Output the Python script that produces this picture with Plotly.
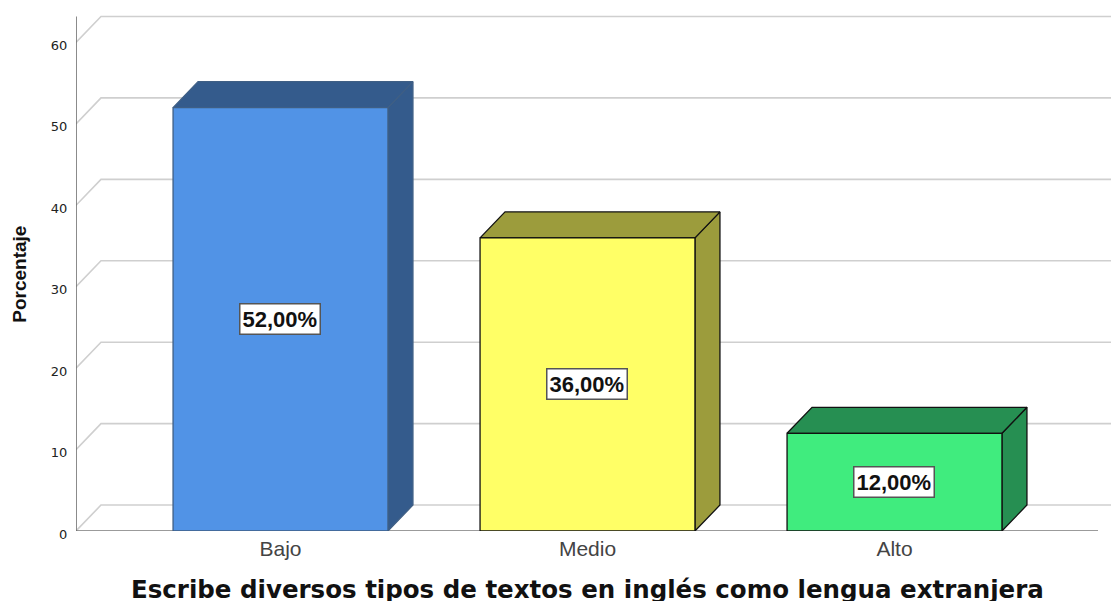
import plotly.graph_objects as go

categories = ["Bajo", "Medio", "Alto"]
values = [52, 36, 12]
labels = ["52,00%", "36,00%", "12,00%"]
y_ticks = [0, 10, 20, 30, 40, 50, 60]
front_colors = ["#5193E6", "#FFFF66", "#40EC7E"]
dark_colors = ["#345B8C", "#9C9C3C", "#268F52"]
edge_colors = ["#3F5F85", "#111111", "#111111"]
x_title = "Escribe diversos tipos de textos en inglés como lengua extranjera"
y_title = "Porcentaje"

W, H = 1111, 601
LEFT, BASE, TOP = 76, 531.5, 6
PX_PER_CAT = 307.0
PX_PER_VAL = 8.15
FIRST_CENTER = 280.5
DX = 25 / PX_PER_CAT
DY = 26 / PX_PER_VAL
BAR_W = 0.70
X0 = (LEFT - FIRST_CENTER) / PX_PER_CAT
X1 = (W - FIRST_CENTER) / PX_PER_CAT
X_AXIS_END = (1098 - FIRST_CENTER) / PX_PER_CAT
YMAX = (BASE - TOP) / PX_PER_VAL

fig = go.Figure()


def line(xs, ys, color, width):
    fig.add_trace(go.Scatter(x=xs, y=ys, mode="lines", hoverinfo="skip", showlegend=False,
                             line=dict(color=color, width=width)))


for t in y_ticks:
    line([X0, X0 + DX, X1], [t, t + DY, t + DY], "#CFCFCF", 1.6)
line([X0, X_AXIS_END], [0, 0], "#7A7A7A", 1.6)
line([X0, X0], [0, 60 + DY], "#6E6E6E", 1.6)


def face(xs, ys, fill, edge):
    fig.add_trace(go.Scatter(x=xs, y=ys, mode="lines", fill="toself", fillcolor=fill,
                             hoverinfo="skip", showlegend=False,
                             line=dict(color=edge, width=1.3)))


for i, v in enumerate(values):
    l, r = i - BAR_W / 2, i + BAR_W / 2
    face([r, r + DX, r + DX, r, r], [0, DY, v + DY, v, 0], dark_colors[i], edge_colors[i])
    face([l, l + DX, r + DX, r, l], [v, v + DY, v + DY, v, v], dark_colors[i], edge_colors[i])
    face([l, r, r, l, l], [0, 0, v, v, 0], front_colors[i], edge_colors[i])

for i, v in enumerate(values):
    fig.add_annotation(x=i, y=v / 2, text="<b>%s</b>" % labels[i], showarrow=False, xshift=-1,
                       font=dict(family="Liberation Sans", size=22, color="#111111"),
                       bgcolor="white", bordercolor="#555555", borderwidth=1.5, borderpad=2)

fig.update_layout(
    width=W, height=H, autosize=False,
    margin=dict(l=LEFT, r=0, t=TOP, b=H - BASE),
    paper_bgcolor="white", plot_bgcolor="white", showlegend=False,
    font=dict(family="Liberation Sans", color="#222222"),
    xaxis=dict(range=[X0, X1], tickmode="array", tickvals=[0, 1, 2], ticktext=categories,
               showgrid=False, zeroline=False, showline=False, ticks="", ticklabelstandoff=3,
               tickfont=dict(family="Liberation Sans", size=21, color="#444444")),
    yaxis=dict(range=[0, YMAX], tickmode="array", tickvals=y_ticks,
               showgrid=False, zeroline=False, showline=False, ticks="outside", ticklen=5,
               tickcolor="rgba(0,0,0,0)", ticklabelshift=3,
               tickfont=dict(family="DejaVu Sans", size=13, color="#222222")),
)
fig.add_annotation(xref="paper", yref="paper", x=(587 - LEFT) / (W - LEFT), y=0, yshift=-58,
                   text="<b>%s</b>" % x_title, showarrow=False, xanchor="center", yanchor="middle",
                   font=dict(family="DejaVu Sans", size=24.5, color="#111111"))
fig.add_annotation(xref="paper", yref="paper", x=0, xshift=20 - LEFT, y=(BASE - 275) / (BASE - TOP),
                   text="<b>%s</b>" % y_title, showarrow=False, textangle=-90,
                   xanchor="center", yanchor="middle", font=dict(size=19, color="#111111"))
fig.write_html("out.html", config={"displayModeBar": False},
               post_script="document.body.style.margin='0';")
